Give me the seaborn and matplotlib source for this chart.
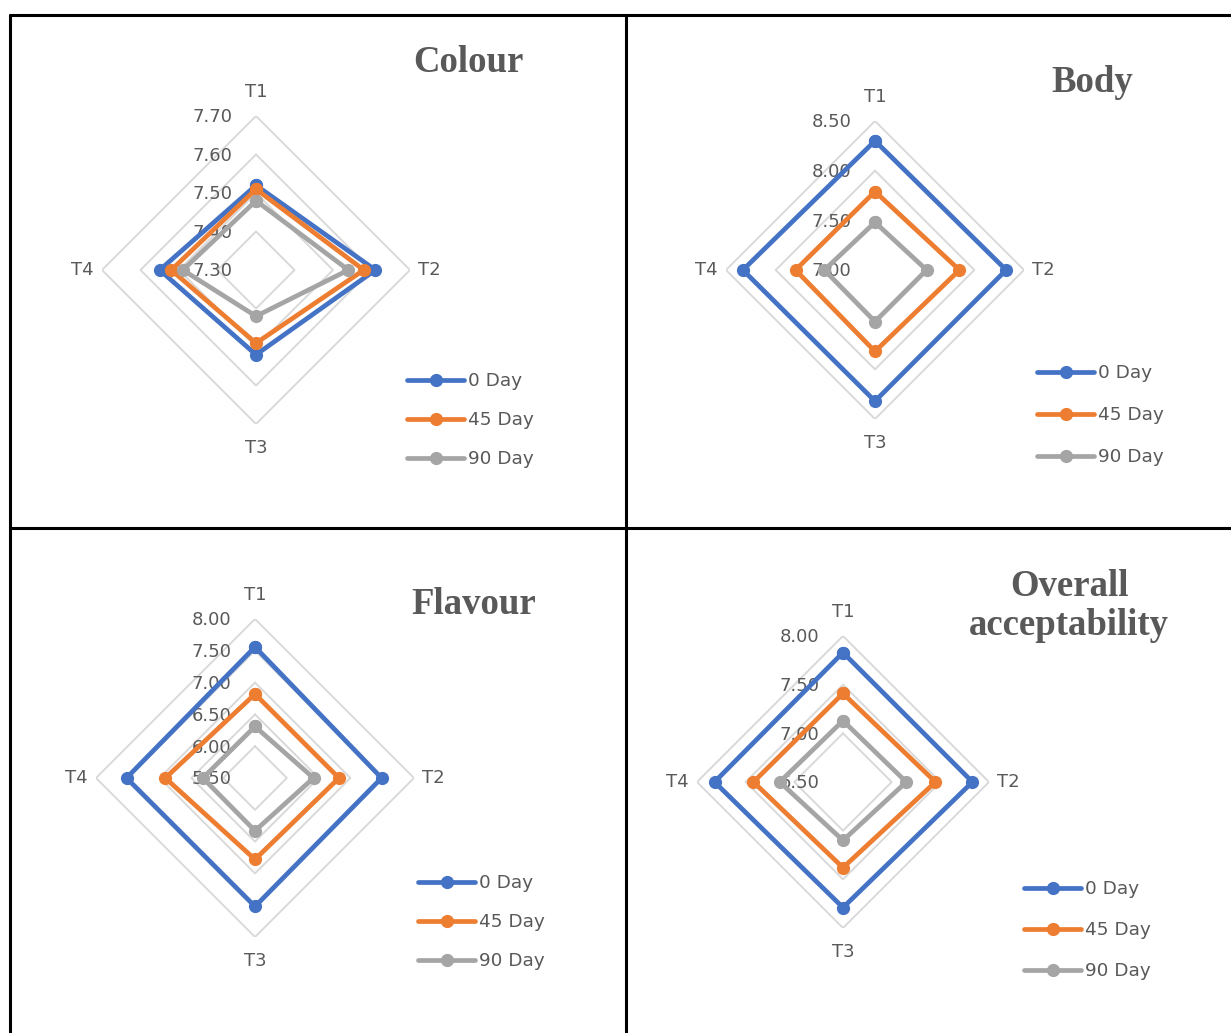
import matplotlib
matplotlib.use("Agg")
import matplotlib.pyplot as plt
from matplotlib.lines import Line2D
import numpy as np
import pandas as pd
import seaborn as sns

categories = ["T1", "T2", "T3", "T4"]
days = ["0 Day", "45 Day", "90 Day"]

colour_day0 = [7.52, 7.61, 7.52, 7.55]
colour_day45 = [7.51, 7.58, 7.49, 7.52]
colour_day90 = [7.48, 7.54, 7.42, 7.49]

body_day0 = [8.30, 8.32, 8.32, 8.33]
body_day45 = [7.79, 7.85, 7.82, 7.80]
body_day90 = [7.48, 7.52, 7.52, 7.51]

flavour_day0 = [7.56, 7.49, 7.52, 7.52]
flavour_day45 = [6.82, 6.82, 6.78, 6.91]
flavour_day90 = [6.31, 6.42, 6.33, 6.32]

overall_day0 = [7.83, 7.83, 7.79, 7.82]
overall_day45 = [7.41, 7.45, 7.38, 7.42]
overall_day90 = [7.13, 7.15, 7.10, 7.15]

colour_ticks = [7.30, 7.40, 7.50, 7.60, 7.70]
body_ticks = [7.00, 7.50, 8.00, 8.50]
flavour_ticks = [5.50, 6.00, 6.50, 7.00, 7.50, 8.00]
overall_ticks = [6.50, 7.00, 7.50, 8.00]

palette = {"0 Day": "#4472C4", "45 Day": "#ED7D31", "90 Day": "#A5A5A5"}
TEXT = "#595959"
GRID = "#D9D9D9"

sns.set_theme(style="white")
plt.rcParams["font.family"] = ["DejaVu Sans"]

W, H = 1231, 1033
fig = plt.figure(figsize=(W / 100, H / 100), dpi=100)
fig.patch.set_facecolor("white")


def to_frame(series):
    rows = []
    for day, vals in zip(days, series):
        closed = list(vals) + [vals[0]]
        for i, v in enumerate(closed):
            rows.append({"theta": i * np.pi / 2, "score": v, "day": day})
    return pd.DataFrame(rows)


def radar(cx, cy, rad, series, ticks, title, title_xy, legend_xy, legend_gap):
    ax = fig.add_axes([(cx - rad) / W, (H - cy - rad) / H, 2 * rad / W, 2 * rad / H],
                      projection="polar")
    ax.set_theta_offset(np.pi / 2)
    ax.set_theta_direction(-1)
    ax.patch.set_alpha(0)
    ax.spines["polar"].set_visible(False)
    ax.grid(False)

    theta_closed = [i * np.pi / 2 for i in range(5)]
    for t in ticks[1:]:
        ax.plot(theta_closed, [t] * 5, color=GRID, lw=1.4, zorder=1)

    df = to_frame(series)
    sns.lineplot(data=df, x="theta", y="score", hue="day", palette=palette,
                 sort=False, estimator=None, marker="o", markersize=9.5,
                 markeredgewidth=0, linewidth=3.4, ax=ax, zorder=3)
    ax.set_ylim(ticks[0], ticks[-1])
    ax.set_xticks([])
    ax.set_yticks([])
    ax.set_xlabel("")
    ax.set_ylabel("")

    for t in ticks:
        ax.annotate(f"{t:.2f}", xy=(0, t), xytext=(-17, -1), textcoords="offset points",
                    ha="right", va="center", fontsize=13, color=TEXT, zorder=2,
                    annotation_clip=False)

    offsets = [((0, 17), "center", "center"), ((6, 0), "left", "center"),
               ((0, -17), "center", "center"), ((-6, 0), "right", "center")]
    for i, (lab, (off, ha, va)) in enumerate(zip(categories, offsets)):
        ax.annotate(lab, xy=(i * np.pi / 2, ticks[-1]), xytext=off, textcoords="offset points",
                    ha=ha, va=va, fontsize=13, color=TEXT, annotation_clip=False)

    handles, labels = ax.get_legend_handles_labels()
    ax.legend(handles, labels, loc="upper left",
              bbox_to_anchor=(legend_xy[0] / W, 1 - legend_xy[1] / H),
              bbox_transform=fig.transFigure, frameon=False, fontsize=13.3,
              handlelength=3.1, handletextpad=0.2, labelspacing=legend_gap,
              borderpad=0, borderaxespad=0, labelcolor=TEXT)

    fig.text(title_xy[0] / W, 1 - title_xy[1] / H, title, ha="center", va="center",
             fontsize=26.5, fontweight="bold", family=["Liberation Serif", "DejaVu Serif"],
             color=TEXT, linespacing=1.15)
    return ax


radar(256, 270, 154, [colour_day0, colour_day45, colour_day90], colour_ticks,
      "Colour", (468, 62), (407, 372), 1.15)
radar(875, 270, 149, [body_day0, body_day45, body_day90], body_ticks,
      "Body", (1092, 82), (1037, 364), 1.3)
radar(255, 778, 159, [flavour_day0, flavour_day45, flavour_day90], flavour_ticks,
      "Flavour", (474, 604), (418, 874), 1.15)
radar(843, 782, 146, [overall_day0, overall_day45, overall_day90], overall_ticks,
      "Overall\nacceptability", (1069, 606), (1024, 880), 1.25)

# table borders
for (x0, y0, x1, y1) in [(10, 15, W, 15), (10, 15, 10, H), (626, 15, 626, H), (10, 528, W, 528)]:
    fig.add_artist(Line2D([x0 / W, x1 / W], [1 - y0 / H, 1 - y1 / H],
                          transform=fig.transFigure, color="black", lw=2.2))

fig.savefig("out.png", dpi=100, facecolor="white")
